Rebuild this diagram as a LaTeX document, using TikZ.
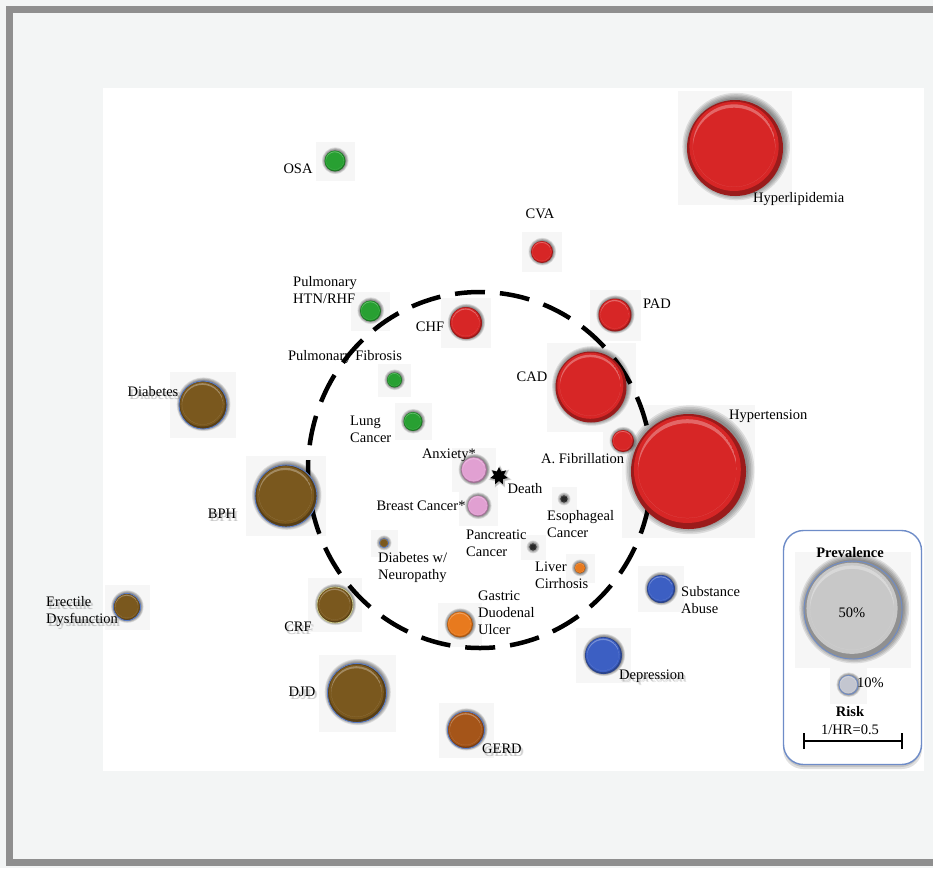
\documentclass[tikz,border=0pt]{standalone}
\usepackage{fontspec}
\setmainfont{Liberation Serif}
\usetikzlibrary{shapes.geometric}

\definecolor{outerbg}{RGB}{243,245,245}
\definecolor{framegray}{RGB}{143,143,143}
\definecolor{sqgray}{RGB}{246,246,246}
\definecolor{cred}{RGB}{215,38,38}
\definecolor{cgreen}{RGB}{40,160,50}
\definecolor{cbrown}{RGB}{122,88,30}
\definecolor{cpink}{RGB}{225,160,210}
\definecolor{corange}{RGB}{232,122,30}
\definecolor{cblue}{RGB}{60,95,195}
\definecolor{cgerd}{RGB}{165,85,25}
\definecolor{rimblue}{RGB}{90,125,200}
\definecolor{rimyellow}{RGB}{200,200,140}
\definecolor{legblue}{RGB}{110,140,200}
\definecolor{clgrey}{RGB}{200,200,200}
\definecolor{clsmall}{RGB}{195,198,208}
\definecolor{cdot}{RGB}{40,40,40}

\tikzset{
  lbl/.style={font=\fontsize{14.5}{17}\selectfont, inner sep=0pt, align=left},
  boldlbl/.style={lbl, font=\fontsize{14.5}{17}\selectfont\bfseries},
  bub/.style={circle, inner sep=0pt, line width=0.9pt},
  legbox/.style={draw=legblue, line width=1.4pt, rounded corners=20pt, fill=white,
    minimum width=138pt, minimum height=234pt},
}

% name / x / y / radius / colour / rim colour
\def\bubblelist{%
  hyperl/735/148/48/cred/none,
  cva/542/252/11/cred/none,
  pad/615/315/16.5/cred/none,
  chf/466/323/16/cred/none,
  cad/591/387/35.5/cred/none,
  afib/623/441/11/cred/none,
  hyper/688.5/471.5/57.5/cred/none,
  osa/335/161/10.5/cgreen/none,
  phtn/370.5/311/10.5/cgreen/none,
  pfib/394.5/380/7.5/cgreen/none,
  lung/413/421.5/9.5/cgreen/none,
  anx/474/470/13/cpink/none,
  breast/478/506/10.5/cpink/none,
  esoph/564/499/3.5/cdot/none,
  panc/533/547/3.5/cdot/none,
  liver/580/568/5.5/corange/none,
  dneuro/384/543/4.5/cbrown/rimblue,
  gastric/460/624.5/13/corange/none,
  subst/661/589/14/cblue/none,
  depr/603.5/655.5/18.5/cblue/none,
  gerd/466/730/18.5/cgerd/rimblue,
  djd/357/693/29.5/cbrown/rimblue,
  crf/335/605/18/cbrown/rimyellow,
  erect/127/607/13.5/cbrown/rimblue,
  bph/286/496/31/cbrown/rimblue,
  diab/203/405/24/cbrown/rimblue,
  legbig/853/610/49/clgrey/legblue,
  legsmall/848.5/685/9.5/clsmall/legblue}

% bubble: name, x, y, radius, colour, rim colour
\newcommand\bubble[6]{%
  \pgfmathsetmacro\bsp{max(0.6,0.028*#4)}%
  \foreach \k in {1,...,5}{%
    \fill[black, opacity=0.1] ({#2+0.025*#4},{#3-0.03*#4}) circle[radius=0.98*#4pt+\k*\bsp pt];}%
  \node[bub, minimum size=2*#4pt, fill=#5!72!black, draw=#6] (#1) at (#2,#3) {};
  \fill[#5] ([shift={(-0.02*#4,-0.035*#4)}]#1.center) circle[radius=0.93*#4pt];
  \begin{scope}
    \clip ([shift={(-0.02*#4,-0.05*#4)}]#1.center) circle[radius=0.86*#4pt];
    \fill[white, fill opacity=0.3, even odd rule]
      ([shift={(-0.02*#4,-0.05*#4)}]#1.center) circle[radius=0.86*#4pt]
      ([shift={(-0.02*#4,0.02*#4)}]#1.center) circle[radius=0.86*#4pt];
  \end{scope}
}

% plain label: name, anchor, position, text
\newcommand\plabel[4]{\node[lbl, anchor=#2] (#1) at (#3) {#4};}
% label with a soft drop shadow
\newcommand\slabel[4]{%
  \foreach \dx/\dy [count=\k] in {1.5/2.5,2.5/3}{%
    \node[lbl, anchor=#2, text=black, text opacity=0.13] (#1-sh\k) at ([shift={(\dx,\dy)}]#3) {#4};}%
  \node[lbl, anchor=#2] (#1) at (#3) {#4};
}

\begin{document}
\begin{tikzpicture}[x=1pt,y=-1pt]
\useasboundingbox (0,0) rectangle (933,868);

% page, frame and white panel
\fill[outerbg] (0,0) rectangle (933,868);
\draw[framegray, line width=7pt] (933,9.5) -- (9.5,9.5) -- (9.5,862.5) -- (933,862.5);
\fill[white] (103,88) rectangle (924,771);

% legend frame with its shadow
\fill[black, opacity=0.12, rounded corners=20pt] (783,533) rectangle (922,769);
\fill[black, opacity=0.12, rounded corners=20pt] (784,532) rectangle (921,767);
\node[legbox] (legend) at (852.5,647.5) {};

% faint backing squares
\foreach \n/\x/\y/\r/\c/\m in \bubblelist {%
  \fill[sqgray] ({\x-\r-9},{\y-\r-9}) rectangle ({\x+\r+9},{\y+\r+9});}

% dashed ring
\node[draw, ellipse, line width=4.5pt, dash pattern=on 30pt off 15pt,
      minimum width=344pt, minimum height=356pt, inner sep=0pt] (ring) at (480,470) {};

% bubbles
\foreach \n/\x/\y/\r/\c/\m in \bubblelist {\bubble{\n}{\x}{\y}{\r}{\c}{\m}}

% death marker
\foreach \k in {1,2,3}{%
  \node[star, star points=7, star point ratio=1.8, minimum size=18pt+2*\k pt, inner sep=0pt,
        fill=black, opacity=0.1] (death-sh\k) at (500,477) {};}
\node[star, star points=7, star point ratio=1.8, minimum size=18pt, inner sep=0pt, fill=black] (death) at (499,476) {};

% labels
\plabel{lhyperl}{west}{753,199}{Hyperlipidemia}
\plabel{lcva}{center}{540,214}{CVA}
\plabel{lpad}{west}{643,304}{PAD}
\plabel{lchf}{center}{430,327}{CHF}
\plabel{lcad}{center}{532,377}{CAD}
\plabel{lafib}{west}{541,459}{A. Fibrillation}
\plabel{lhyper}{west}{729,416}{Hypertension}
\plabel{losa}{center}{298,169}{OSA}
\plabel{lphtn}{west}{293,290}{Pulmonary\\HTN/RHF}
\plabel{lpfib}{center}{345,357}{Pulmonary Fibrosis}
\plabel{llung}{west}{350,429}{Lung\\Cancer}
\plabel{lanx}{center}{449,455}{Anxiety*}
\plabel{ldeath}{center}{525,489}{Death}
\plabel{lbreast}{center}{421,506}{Breast Cancer*}
\plabel{lesoph}{west}{547,524}{Esophageal\\Cancer}
\plabel{lpanc}{west}{466,543}{Pancreatic\\Cancer}
\plabel{lliver}{west}{535,575}{Liver\\Cirrhosis}
\plabel{ldneuro}{west}{378,568}{Diabetes w/\\Neuropathy}
\plabel{lgastric}{west}{478,613}{Gastric\\Duodenal\\Ulcer}
\plabel{lsubst}{west}{681,600}{Substance\\Abuse}
\slabel{ldepr}{west}{619,676}{Depression}
\slabel{lgerd}{west}{482,749}{GERD}
\slabel{ldjd}{center}{302,692}{DJD}
\slabel{lcrf}{center}{298,627}{CRF}
\slabel{lerect}{west}{46,612}{Erectile\\Dysfunction}
\slabel{lbph}{center}{222,514}{BPH}
\slabel{ldiab}{center}{153,392}{Diabetes}

% legend text and risk bar
\node[boldlbl] (prevt) at (850,553) {Prevalence};
\node[lbl] (fifty) at (852,613) {50\%};
\node[lbl, anchor=west] (tenp) at (857,683) {10\%};
\node[boldlbl] (riskt) at (850,712) {Risk};
\node[lbl] (hrt) at (850,730) {1/HR=0.5};
\coordinate (barL) at (804,741);
\coordinate (barR) at (902,741);
\draw[line width=2.6pt] (barL) -- (barR);
\draw[line width=2.6pt] ([shift={(0,-8)}]barL) -- ([shift={(0,8)}]barL);
\draw[line width=2.6pt] ([shift={(0,-8)}]barR) -- ([shift={(0,8)}]barR);
\end{tikzpicture}
\end{document}
